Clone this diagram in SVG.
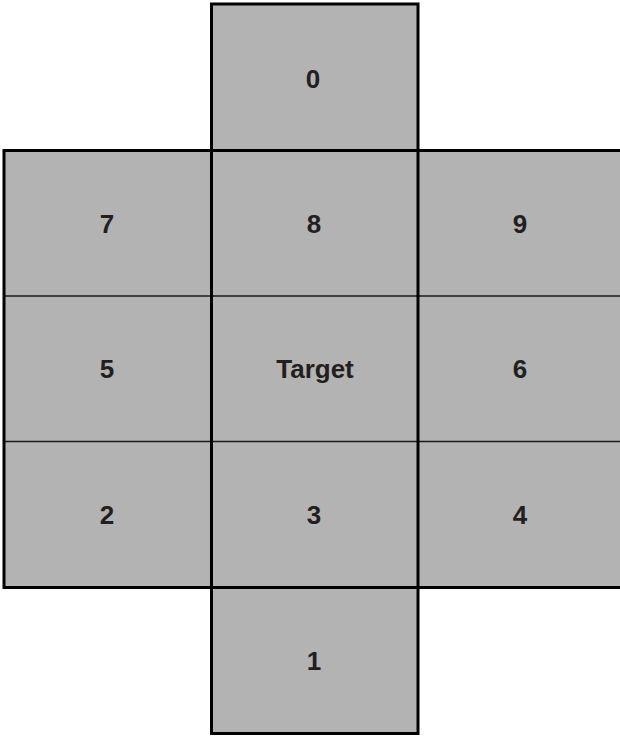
<svg xmlns="http://www.w3.org/2000/svg" width="620" height="736" viewBox="0 0 620 736">
<style>
.cell{fill:#b3b3b3;stroke:none}
.lbl{font-family:"Liberation Sans",Arial,sans-serif;font-weight:bold;font-size:26px;fill:#231f20;text-anchor:middle}
.thick{stroke:#000;stroke-width:3;fill:none}
.thin{stroke:#1a1a1a;stroke-width:1.6;fill:none}
</style>
<rect width="620" height="736" fill="#fff"/>
<g id="n0"><rect class="cell" x="211.5" y="4" width="206.5" height="146.5"/><text class="lbl" x="313" y="88">0</text></g>
<g id="n7"><rect class="cell" x="4" y="150.5" width="207.5" height="145.5"/><text class="lbl" x="107" y="233">7</text></g>
<g id="n8"><rect class="cell" x="211.5" y="150.5" width="206.5" height="145.5"/><text class="lbl" x="314" y="233">8</text></g>
<g id="n9"><rect class="cell" x="418" y="150.5" width="207" height="145.5"/><text class="lbl" x="520" y="233">9</text></g>
<g id="n5"><rect class="cell" x="4" y="296" width="207.5" height="145.5"/><text class="lbl" x="107" y="378">5</text></g>
<g id="nT"><rect class="cell" x="211.5" y="296" width="206.5" height="145.5"/><text class="lbl" x="315" y="378">Target</text></g>
<g id="n6"><rect class="cell" x="418" y="296" width="207" height="145.5"/><text class="lbl" x="520" y="378">6</text></g>
<g id="n2"><rect class="cell" x="4" y="441.5" width="207.5" height="146"/><text class="lbl" x="107" y="524">2</text></g>
<g id="n3"><rect class="cell" x="211.5" y="441.5" width="206.5" height="146"/><text class="lbl" x="314" y="524">3</text></g>
<g id="n4"><rect class="cell" x="418" y="441.5" width="207" height="146"/><text class="lbl" x="520" y="524">4</text></g>
<g id="n1"><rect class="cell" x="211.5" y="587.5" width="206.5" height="146"/><text class="lbl" x="314" y="670">1</text></g>
<g id="lines">
<line class="thin" x1="4" y1="296" x2="625" y2="296"/>
<line class="thin" x1="4" y1="441.5" x2="625" y2="441.5"/>
<rect class="thick" x="4" y="150.5" width="622" height="437"/>
<rect class="thick" x="211.5" y="4" width="206.5" height="729.5"/>
</g>
</svg>
